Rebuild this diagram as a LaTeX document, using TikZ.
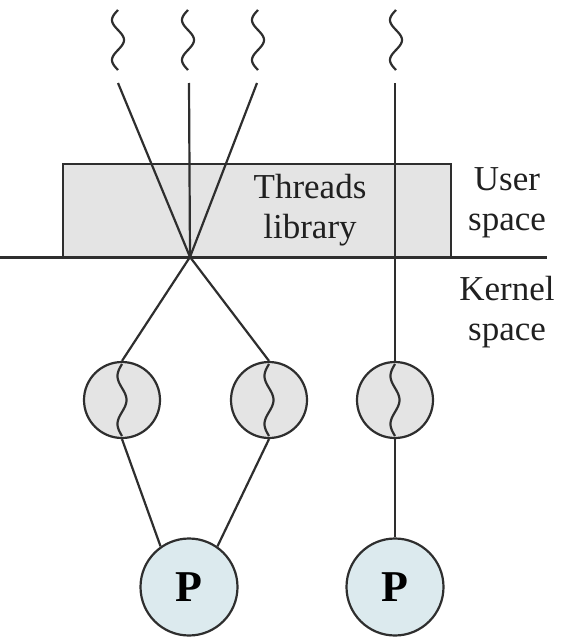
\documentclass[tikz,border=0pt]{standalone}
\usepackage{fontspec}
\setmainfont{Liberation Serif}
\definecolor{ink}{HTML}{2E2E2E}
\definecolor{boxgray}{HTML}{E4E4E4}
\definecolor{pblue}{HTML}{DCEAEE}
\newcommand\squig[4]{\draw[wire] plot[domain=0:540,samples=60,smooth,variable=\t] ({#1-#4*sin(\t)},{#2+(\t/540)*(#3-#2)});}
\begin{document}
\begin{tikzpicture}[x=1pt,y=-1pt,
  wire/.style={draw=ink,line width=2.2pt},
  kthread/.style={circle,draw=ink,line width=2.2pt,fill=boxgray,minimum size=76pt,inner sep=0pt},
  proc/.style={circle,draw=ink,line width=2.2pt,fill=pblue,minimum size=97pt,inner sep=0pt,font=\fontsize{44}{46}\selectfont\bfseries},
  lbl/.style={align=center,font=\fontsize{35}{40}\selectfont,text=ink!70!black}]
\useasboundingbox (0,0) rectangle (567,637);
% threads library box
\node[draw=ink,line width=2.2pt,fill=boxgray,minimum width=388pt,minimum height=94pt,inner sep=0pt,anchor=north west] (lib) at (62,163) {};
\node[lbl] (libtxt) at (310,210) {Threads\\library};
\node[lbl] (user) at (507,203) {User\\space};
\node[lbl] (kern) at (507,312) {Kernel\\space};
% kernel boundary
\coordinate (kl) at (0,257);
\coordinate (kr) at (547,257);
\coordinate (X) at (190,257);
% top thread ends
\coordinate (t1) at (118,83);
\coordinate (t2) at (189,83);
\coordinate (t3) at (257,83);
\coordinate (t4) at (395,83);
% kernel threads
\node[kthread] (c1) at (122,400) {};
\node[kthread] (c2) at (269,400) {};
\node[kthread] (c3) at (395,400) {};
% processors
\node[proc] (p1) at (189,587) {P};
\node[proc] (p2) at (395,587) {P};
% connectors
\draw[wire] (t1) -- (X);
\draw[wire] (t2) -- (X);
\draw[wire] (t3) -- (X);
\draw[wire] (t4) -- (c3.north);
\draw[wire,line width=3pt] (kl) -- (kr);
\draw[wire] (X) -- (c1.north);
\draw[wire] (X) -- (c2.north);
\draw[wire] (c1.south) -- (p1.125);
\draw[wire] (c2.south) -- (p1.55);
\draw[wire] (c3.south) -- (p2.north);
% squiggles
\squig{118}{10}{70}{6}
\squig{188}{10}{70}{6}
\squig{258}{10}{70}{6}
\squig{396}{10}{70}{6}
\squig{122}{364}{436}{4.5}
\squig{269}{364}{436}{4.5}
\squig{395}{364}{436}{4.5}
\end{tikzpicture}
\end{document}
